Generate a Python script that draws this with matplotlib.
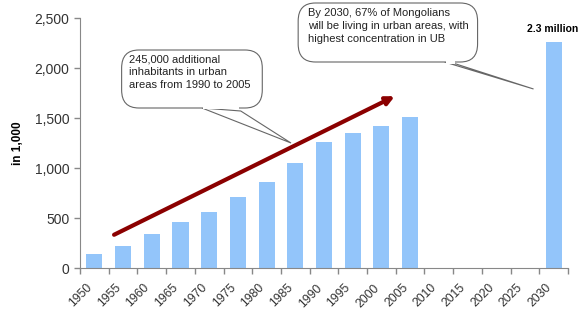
import numpy as np
import matplotlib.pyplot as plt
import matplotlib.transforms as mtransforms
from matplotlib.patches import FancyBboxPatch, Polygon

plt.rcParams['font.family'] = ['Liberation Sans', 'DejaVu Sans']

years = ["1950", "1955", "1960", "1965", "1970", "1975", "1980", "1985", "1990",
         "1995", "2000", "2005", "2010", "2015", "2020", "2025", "2030"]
urban_pop = [140, 220, 340, 460, 560, 710, 865, 1055, 1265,
             1355, 1420, 1510, 0, 0, 0, 0, 2260]
yticks = [0, 500, 1000, 1500, 2000, 2500]

x = np.arange(len(years))

fig = plt.figure(figsize=(5.8, 3.15), dpi=100)
ax = fig.add_axes([80/580, 47/315, 488/580, 250/315])

ax.bar(x, urban_pop, width=0.56, color='#93C5FA')

ax.set_xlim(-0.5, len(years) - 0.5)
ax.set_ylim(0, 2500)
ax.set_yticks(yticks)
ax.set_yticklabels([f"{v:,}" for v in yticks], fontsize=10, color='#333333')
ax.set_xticks(np.arange(-0.5, len(years), 1))
ax.set_xticklabels([])
ax.set_xticks(x, minor=True)
ax.set_xticklabels(years, minor=True, rotation=45, ha='right', va='center',
                   rotation_mode='anchor', fontsize=8.8, color='#333333')
ax.tick_params(axis='x', which='minor', length=0, pad=13)
ax.tick_params(axis='both', which='major', color='#888888', length=4, width=1)
# nudge year labels a little to the left
shift = mtransforms.ScaledTranslation(-4/100, 0, fig.dpi_scale_trans)
for lbl in ax.get_xticklabels(minor=True):
    lbl.set_transform(lbl.get_transform() + shift)
for s in ['top', 'right']:
    ax.spines[s].set_visible(False)
for s in ['left', 'bottom']:
    ax.spines[s].set_color('#888888')

ax.set_ylabel('in 1,000', fontsize=8.5, fontweight='bold', labelpad=8)

# growth arrow
ax.annotate('', xy=(10.55, 1730), xytext=(0.6, 320),
            arrowprops=dict(arrowstyle='-|>', color='#8B0000', lw=3, mutation_scale=12))

# callout 1
ax.add_patch(Polygon([(3.75, 1600), (5.1, 1570), (6.85, 1250)], closed=True,
                     facecolor='white', edgecolor='#666666', lw=0.8, zorder=4))
ax.add_patch(FancyBboxPatch((0.95, 1600), 4.9, 580, boxstyle='round,pad=0,rounding_size=0.6',
                            mutation_aspect=300, facecolor='white', edgecolor='#666666',
                            lw=0.8, zorder=5))
ax.add_patch(Polygon([(3.8, 1610), (5.05, 1610), (5.05, 1590), (3.8, 1590)], closed=True,
                     facecolor='white', edgecolor='none', zorder=6))
ax.text(1.2, 2140, "245,000 additional\ninhabitants in urban\nareas from 1990 to 2005",
        fontsize=8, va='top', ha='left', linespacing=1.35, color='#222222', zorder=7)

# callout 2
ax.add_patch(Polygon([(12.2, 2060), (12.6, 2040), (15.3, 1790)], closed=True,
                     facecolor='white', edgecolor='#666666', lw=0.8, zorder=4, clip_on=False))
ax.add_patch(FancyBboxPatch((7.1, 2060), 6.25, 590, boxstyle='round,pad=0,rounding_size=0.6',
                            mutation_aspect=300, facecolor='white', edgecolor='#666666',
                            lw=0.8, zorder=5, clip_on=False))
ax.add_patch(Polygon([(12.25, 2070), (12.55, 2070), (12.55, 2045), (12.25, 2045)], closed=True,
                     facecolor='white', edgecolor='none', zorder=6, clip_on=False))
ax.text(7.45, 2600, "By 2030, 67% of Mongolians\nwill be living in urban areas, with\nhighest concentration in UB",
        fontsize=8, va='top', ha='left', linespacing=1.35, color='#222222', zorder=7)

ax.text(16.85, 2390, "2.3 million", fontsize=7.5, fontweight='bold', ha='right', va='center',
        clip_on=False)

fig.savefig('out.png', dpi=100)
